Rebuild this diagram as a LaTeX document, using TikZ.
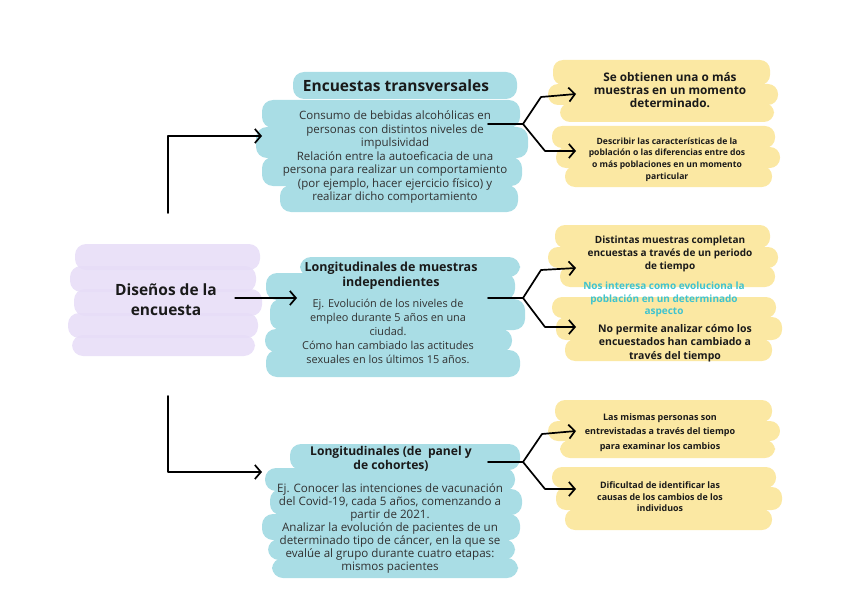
\documentclass[tikz,border=0pt]{standalone}
\usepackage{fontspec}
\setmainfont{Open Sans}
\usetikzlibrary{arrows.meta}
\definecolor{bluebr}{HTML}{A9DDE5}
\definecolor{yelbr}{HTML}{FBE8A3}
\definecolor{purbr}{HTML}{E6DCF7}
\definecolor{cyantx}{HTML}{3FC3CF}
\definecolor{txt}{HTML}{1A1A1A}
\tikzset{
  bluestroke/.style={fill=bluebr, rounded corners=11pt},
  yelstroke/.style={fill=yelbr, rounded corners=10pt},
  purstroke/.style={fill=purbr, fill opacity=0.85, rounded corners=11pt},
  conn/.style={line width=1.7pt, black, line join=round, line cap=round},
  arr/.style={conn, -{Straight Barb[length=6pt,width=14pt,line width=1.7pt]}},
  maintitle/.style={font=\bfseries\fontsize{15.5}{20}\selectfont, text=txt, align=center},
  boxtitle/.style={font=\bfseries\fontsize{12.5}{15}\selectfont, text=txt, align=center},
  bigtitle/.style={font=\bfseries\fontsize{15.5}{17}\selectfont, text=txt, align=center},
  body/.style={font=\fontsize{11.5}{13.5}\selectfont, text=txt!90, align=center},
  ytext/.style={font=\bfseries\fontsize{10}{13}\selectfont, text=txt, align=center},
}
\begin{document}
\begin{tikzpicture}[x=1pt,y=-1pt]
\useasboundingbox (0,0) rectangle (848,599);
% ---------- purple brush (center) ----------
\fill[purstroke] (75,244) rectangle (260,270);
\fill[purstroke] (70,266) rectangle (256,292);
\fill[purstroke] (74,289) rectangle (262,316);
\fill[purstroke] (68,313) rectangle (258,338);
\fill[purstroke] (72,335) rectangle (255,356);
% ---------- top blue ----------
\fill[bluestroke] (293,72) rectangle (517,99);
\fill[bluestroke] (262,100) rectangle (520,128);
\fill[bluestroke] (256,127) rectangle (528,158);
\fill[bluestroke] (262,157) rectangle (522,186);
\fill[bluestroke] (280,185) rectangle (518,212);
% ---------- middle blue ----------
\fill[bluestroke] (300,257) rectangle (520,277);
\fill[bluestroke] (266,273) rectangle (515,300);
\fill[bluestroke] (270,299) rectangle (525,330);
\fill[bluestroke] (265,329) rectangle (512,352);
\fill[bluestroke] (266,350) rectangle (520,377);
% ---------- bottom blue ----------
\fill[bluestroke] (290,444) rectangle (520,470);
\fill[bluestroke] (265,468) rectangle (515,491);
\fill[bluestroke] (270,489) rectangle (522,515);
\fill[bluestroke] (262,514) rectangle (520,540);
\fill[bluestroke] (268,539) rectangle (515,560);
\fill[bluestroke] (272,558) rectangle (518,578);
% ---------- yellow top ----------
\fill[yelstroke] (553,60) rectangle (770,85);
\fill[yelstroke] (548,84) rectangle (778,105);
\fill[yelstroke] (560,103) rectangle (774,122);
\fill[yelstroke] (552,126) rectangle (775,148);
\fill[yelstroke] (556,147) rectangle (780,168);
\fill[yelstroke] (565,166) rectangle (772,187);
% ---------- yellow middle ----------
\fill[yelstroke] (555,225) rectangle (770,248);
\fill[yelstroke] (548,247) rectangle (778,268);
\fill[yelstroke] (560,266) rectangle (775,287);
\fill[yelstroke] (552,297) rectangle (776,318);
\fill[yelstroke] (556,317) rectangle (782,340);
\fill[yelstroke] (565,339) rectangle (772,361);
% ---------- yellow bottom ----------
\fill[yelstroke] (555,400) rectangle (772,422);
\fill[yelstroke] (548,421) rectangle (780,441);
\fill[yelstroke] (560,440) rectangle (775,458);
\fill[yelstroke] (552,467) rectangle (776,488);
\fill[yelstroke] (556,487) rectangle (782,510);
\fill[yelstroke] (565,509) rectangle (772,530);

% ---------- text nodes ----------
\node[maintitle] (c) at (166,300) {Diseños de la\\encuesta};

\node[bigtitle] (t1) at (396,86) {Encuestas transversales};
\node[body] (t1b) at (395,157) {Consumo de bebidas alcohólicas en\\personas con distintos niveles de\\impulsividad\\Relación entre la autoeficacia de una\\persona para realizar un comportamiento\\(por ejemplo, hacer ejercicio físico) y\\realizar dicho comportamiento};

\node[boxtitle] (m1) at (391,275.5) {Longitudinales de muestras\\independientes};
\node[body, font=\fontsize{10.9}{14}\selectfont] (m1b) at (388,331) {Ej. Evolución de los niveles de\\empleo durante 5 años en una\\ciudad.\\Cómo han cambiado las actitudes\\sexuales en los últimos 15 años.};

\node[boxtitle, font=\bfseries\fontsize{12.1}{14.5}\selectfont] (b1) at (391,459) {Longitudinales (de \ panel y\\de cohortes)};
\node[body, font=\fontsize{11.6}{13}\selectfont] (b1b) at (390,528) {Ej. Conocer las intenciones de vacunación\\del Covid-19, cada 5 años, comenzando a\\partir de 2021.\\Analizar la evolución de pacientes de un\\determinado tipo de cáncer, en la que se\\evalúe al grupo durante cuatro etapas:\\mismos pacientes};

\node[ytext, font=\bfseries\fontsize{11.8}{13}\selectfont] (y1) at (670,90) {Se obtienen una o más\\muestras en un momento\\determinado.};
\node[ytext, font=\bfseries\fontsize{8.6}{11.7}\selectfont] (y2) at (667,159.5) {Describir las características de la\\población o las diferencias entre dos\\o más poblaciones en un momento\\particular};

\node[ytext, font=\bfseries\fontsize{10}{13}\selectfont] (y3) at (670,254) {Distintas muestras completan\\encuestas a través de un periodo\\de tiempo};
\node[ytext, font=\bfseries\fontsize{10}{12.5}\selectfont, text=cyantx] (y4) at (664,299.5) {Nos interesa como evoluciona la\\población en un determinado\\aspecto};
\node[ytext, font=\bfseries\fontsize{10.5}{13.5}\selectfont] (y5) at (675,343) {No permite analizar cómo los\\encuestados han cambiado a\\través del tiempo};

\node[ytext, font=\bfseries\fontsize{9}{14.5}\selectfont] (y6) at (660,432.5) {Las mismas personas son\\entrevistadas a través del tiempo\\para examinar los cambios};
\node[ytext, font=\bfseries\fontsize{8.9}{11.5}\selectfont] (y7) at (660,497) {Dificultad de identificar las\\causas de los cambios de los\\individuos};

% ---------- connector coordinates ----------
\coordinate (ca) at (235,298);
\coordinate (cb) at (297,298);
\coordinate (lt0) at (168,213);
\coordinate (lt1) at (262,136);
\coordinate (lb0) at (168,396);
\coordinate (lb1) at (262,472);

\coordinate (f1s) at (488,124); \coordinate (f1j) at (523,124);
\coordinate (f1u) at (541,97);  \coordinate (f1ut) at (576,94);
\coordinate (f1d) at (545,151); \coordinate (f1dt) at (576,151);

\coordinate (f2s) at (488,298); \coordinate (f2j) at (523,298);
\coordinate (f2u) at (541,270); \coordinate (f2ut) at (576,268);
\coordinate (f2d) at (545,327); \coordinate (f2dt) at (576,327);

\coordinate (f3s) at (488,462); \coordinate (f3j) at (523,462);
\coordinate (f3u) at (542,434); \coordinate (f3ut) at (576,431);
\coordinate (f3d) at (545,489); \coordinate (f3dt) at (576,489);

% ---------- connectors ----------
\draw[arr, line width=1.2pt] (ca) -- (cb);
\draw[arr] (lt0) |- (lt1);
\draw[arr] (lb0) |- (lb1);

\draw[conn] (f1s) -- (f1j);
\draw[arr] (f1j) -- (f1u) -- (f1ut);
\draw[arr] (f1j) -- (f1d) -- (f1dt);

\draw[conn] (f2s) -- (f2j);
\draw[arr] (f2j) -- (f2u) -- (f2ut);
\draw[arr] (f2j) -- (f2d) -- (f2dt);

\draw[conn] (f3s) -- (f3j);
\draw[arr] (f3j) -- (f3u) -- (f3ut);
\draw[arr] (f3j) -- (f3d) -- (f3dt);
\end{tikzpicture}
\end{document}
